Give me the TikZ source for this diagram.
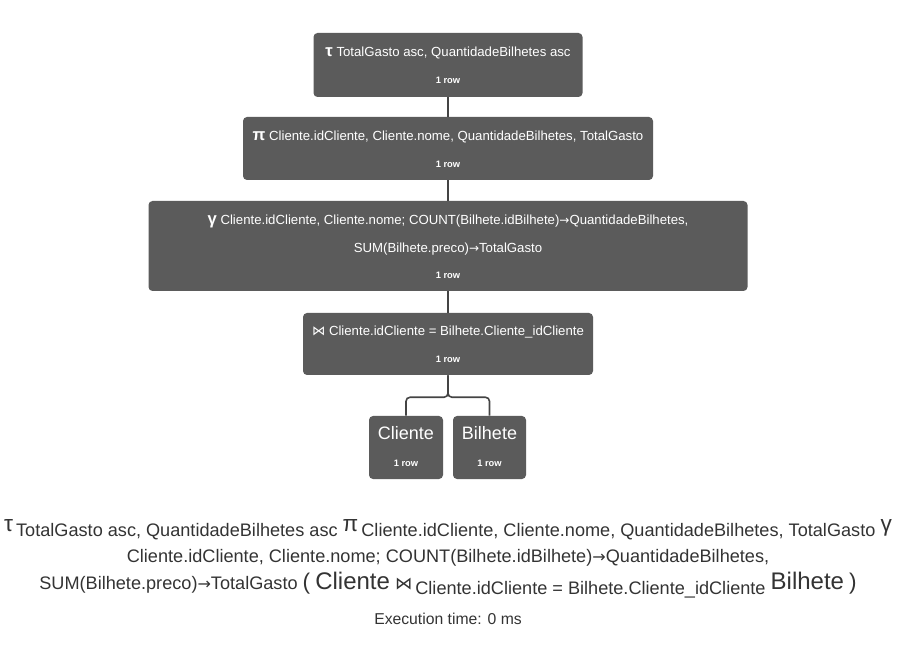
\documentclass[tikz,border=0pt]{standalone}
\usepackage{fontspec}
\setmainfont{Liberation Sans}
\newfontfamily\symfont{DejaVu Sans}
\definecolor{boxgray}{HTML}{5B5B5B}
\definecolor{txtdark}{HTML}{333333}
\definecolor{linegray}{HTML}{444444}
\newcommand{\fs}[1]{\fontsize{#1}{#1}\selectfont}
\newcommand{\arr}{{\symfont\fs{9}→}}
\begin{document}
\begin{tikzpicture}[x=0.75pt,y=-0.75pt,
  opbox/.style={draw=none,fill=boxgray,rounded corners=3pt,inner sep=0pt},
  ttl/.style={text=white,inner sep=0pt,font=\fs{9.9}},
  rowtxt/.style={text=white,inner sep=0pt,font=\fs{7}\bfseries},
  conn/.style={draw=linegray,line width=1.2pt},
  btm/.style={text=txtdark,inner sep=0pt,font=\fs{13.6}}]
\useasboundingbox (0,0) rectangle (906,655);
% boxes
\node[opbox,minimum width=269*0.75pt,minimum height=64*0.75pt] (tau) at (448,65) {};
\node[opbox,minimum width=410*0.75pt,minimum height=63*0.75pt] (pi) at (448,148.5) {};
\node[opbox,minimum width=599*0.75pt,minimum height=90*0.75pt] (gam) at (448,246) {};
\node[opbox,minimum width=290*0.75pt,minimum height=62*0.75pt] (join) at (448,344) {};
\node[opbox,minimum width=74*0.75pt,minimum height=63*0.75pt] (cli) at (406,447.5) {};
\node[opbox,minimum width=73*0.75pt,minimum height=63*0.75pt] (bil) at (489.5,447.5) {};
% texts
\node[ttl] (taut) at (448,53) {{\fs{12.5}\bfseries τ} TotalGasto asc, QuantidadeBilhetes asc};
\node[rowtxt] (taur) at (448,80) {1 row};
\node[ttl] (pit) at (448,137) {{\fs{12.5}\bfseries π} Cliente.idCliente, Cliente.nome, QuantidadeBilhetes, TotalGasto};
\node[rowtxt] (pir) at (448,164) {1 row};
\node[ttl] (gamt) at (448,221) {{\fs{12.5}\bfseries γ} Cliente.idCliente, Cliente.nome; COUNT(Bilhete.idBilhete)\arr QuantidadeBilhetes,};
\node[ttl] (gamt2) at (448,249) {SUM(Bilhete.preco)\arr TotalGasto};
\node[rowtxt] (gamr) at (448,275) {1 row};
\node[ttl] (joint) at (448,332) {{\symfont\fs{10}⋈} Cliente.idCliente = Bilhete.Cliente\_idCliente};
\node[rowtxt] (joinr) at (448,359) {1 row};
\node[ttl,font=\fs{13.5}] (clit) at (406,433) {Cliente};
\node[rowtxt] (clir) at (406,463) {1 row};
\node[ttl,font=\fs{13.5}] (bilt) at (489.5,433) {Bilhete};
\node[rowtxt] (bilr) at (489.5,463) {1 row};
% connectors
\draw[conn] (tau.south) -- (pi.north);
\draw[conn] (pi.south) -- (gam.north);
\draw[conn] (gam.south) -- (join.north);
\draw[conn,rounded corners=3pt] (join.south) -- ++(0,22) -| (cli.north);
\draw[conn,rounded corners=3pt] (join.south) -- ++(0,22) -| (bil.north);
% bottom expression
\node[btm] (l1) at (448,530) {{\fs{17}τ}\,\raisebox{-3.5pt}{TotalGasto asc, QuantidadeBilhetes asc} {\fs{17}π}\,\raisebox{-3.5pt}{Cliente.idCliente, Cliente.nome, QuantidadeBilhetes, TotalGasto} {\fs{17}γ}};
\node[btm] (l2) at (448,558) {Cliente.idCliente, Cliente.nome; COUNT(Bilhete.idBilhete){\symfont\fs{12}→}QuantidadeBilhetes,};
\node[btm] (l3) at (448,585) {SUM(Bilhete.preco){\symfont\fs{12}→}TotalGasto {\fs{17}(} {\fs{18}Cliente} {\symfont\fs{13}⋈}\,\raisebox{-3.5pt}{Cliente.idCliente = Bilhete.Cliente\_idCliente} {\fs{18}Bilhete} {\fs{17})}};
\node[btm,font=\fs{11.8}] (ex) at (448,619) {Execution time: 0 ms};
\end{tikzpicture}
\end{document}
